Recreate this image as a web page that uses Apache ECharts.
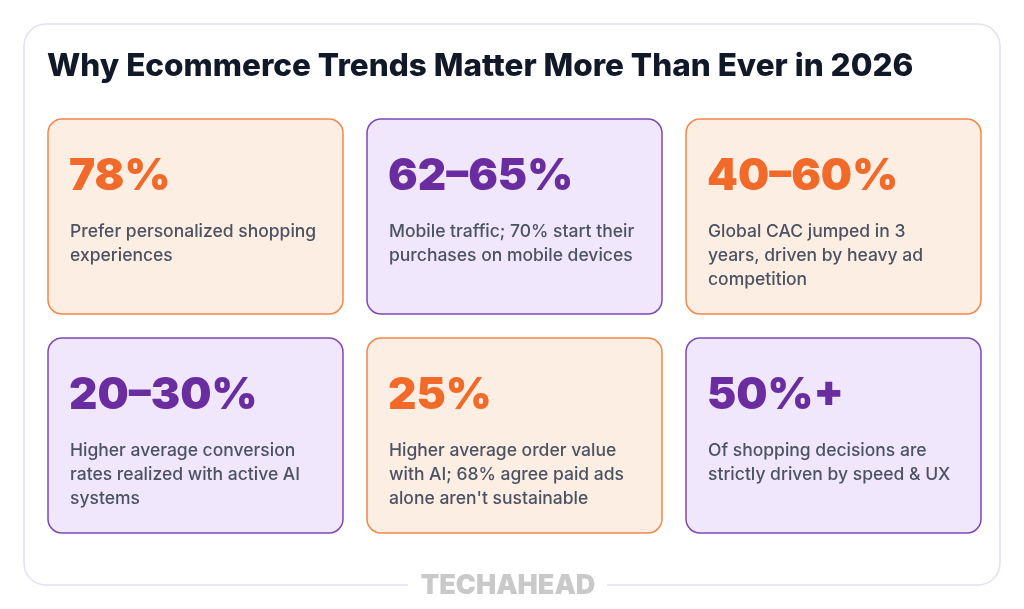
<!DOCTYPE html>
<html>
<head>
<meta charset="utf-8">
<script src="https://cdn.jsdelivr.net/npm/echarts@6/dist/echarts.min.js"></script>
<style>
  html, body { margin: 0; padding: 0; background: #ffffff; }
  #main { width: 1024px; height: 609px; }
</style>
</head>
<body>
<div id="main"></div>
<script>
// card grid: columns and rows
var columns = ['c1', 'c2', 'c3'];
var rows = ['r1', 'r2'];

// card contents
var stats = ['78%', '62\u201365%', '40\u201360%', '20\u201330%', '25%', '50%+'];
var notes = [
  'Prefer personalized shopping\nexperiences',
  'Mobile traffic; 70% start their\npurchases on mobile devices',
  'Global CAC jumped in 3\nyears, driven by heavy ad\ncompetition',
  'Higher average conversion\nrates realized with active AI\nsystems',
  'Higher average order value\nwith AI; 68% agree paid ads\nalone aren\'t sustainable',
  'Of shopping decisions are\nstrictly driven by speed & UX'
];
var cardCol = [0, 1, 2, 0, 1, 2];
var cardRow = [0, 0, 0, 1, 1, 1];
var tones = ['orange', 'purple', 'orange', 'purple', 'orange', 'purple'];

// colours per tone
var palette = {
  orange: { fill: '#fdeee3', stroke: '#f5874a', num: '#f26a2a' },
  purple: { fill: '#f1e7fd', stroke: '#7c4ab6', num: '#6a2d9f' }
};

var cards = [];
for (var i = 0; i < stats.length; i++) {
  cards.push([cardCol[i], cardRow[i], i]);
}

function renderCard(params, api) {
  var idx = api.value(2);
  var center = api.coord([api.value(0), api.value(1)]);
  var band = api.size([1, 1]);
  var w = band[0] - 24;
  var h = band[1] - 24;
  var x = center[0] - w / 2;
  var y = center[1] - h / 2;
  var c = palette[tones[idx]];
  return {
    type: 'group',
    children: [
      {
        type: 'rect',
        shape: { x: x, y: y, width: w, height: h, r: 14 },
        style: { fill: c.fill, stroke: c.stroke, lineWidth: 1.5 }
      },
      {
        type: 'text',
        style: {
          x: x + 21, y: y + 58,
          text: stats[idx],
          fill: c.num,
          font: '900 44px Inter',
          textVerticalAlign: 'middle'
        }
      },
      {
        type: 'text',
        style: {
          x: x + 22, y: y + 101,
          text: notes[idx],
          fill: '#4b5262',
          font: '500 17.5px Inter',
          lineHeight: 24,
          textVerticalAlign: 'top'
        }
      }
    ]
  };
}

var myChart = echarts.init(document.getElementById('main'));
var option = {
  backgroundColor: '#ffffff',
  animation: false,
  title: {
    text: 'Why Ecommerce Trends Matter More Than Ever in 2026',
    left: 42,
    top: 46,
    textStyle: { fontFamily: 'Inter', fontWeight: 800, fontSize: 31.5, color: '#111827' }
  },
  grid: { left: 36, right: 31, top: 107, bottom: 64 },
  xAxis: { type: 'category', data: columns, show: false },
  yAxis: { type: 'category', data: rows, show: false, inverse: true },
  graphic: [
    {
      type: 'rect', z: -10,
      shape: { x: 24, y: 24, width: 976, height: 561, r: 22 },
      style: { fill: '#ffffff', stroke: '#e3e1f1', lineWidth: 1.5 }
    },
    {
      type: 'rect', z: -5,
      shape: { x: 408, y: 578, width: 199, height: 14 },
      style: { fill: '#ffffff' }
    },
    {
      type: 'text', z: -4,
      style: {
        x: 508, y: 586, text: 'TECHAHEAD',
        fill: '#c9c9c9', font: '900 27px Inter',
        textAlign: 'center', textVerticalAlign: 'middle'
      }
    }
  ],
  series: [
    {
      type: 'custom',
      renderItem: renderCard,
      data: cards,
      encode: { x: 0, y: 1 },
      silent: true
    }
  ]
};
myChart.setOption(option);
</script>
</body>
</html>
